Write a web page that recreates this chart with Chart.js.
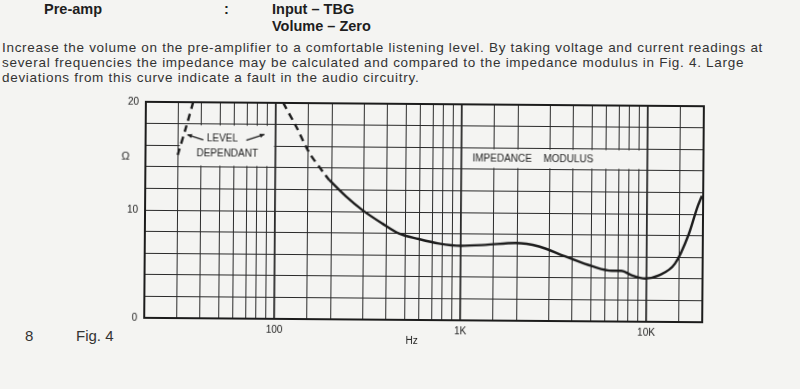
<!DOCTYPE html>
<html lang="en">
<head>
    <meta charset="UTF-8">
    <title>Fig. 4 - Impedance modulus</title>
    <script src="https://cdn.jsdelivr.net/npm/chart.js"></script>
    <style>
        body {
            margin: 0;
            width: 800px;
            height: 389px;
            background: #f4f4f2;
            font-family: "Liberation Sans", Arial, sans-serif;
            color: #222;
            position: relative;
            overflow: hidden;
        }
        .t { position: absolute; white-space: nowrap; line-height: 1; }
        .hdr { font-weight: bold; font-size: 14.5px; color: #1e1e1e; }
        .para { font-size: 13.5px; letter-spacing: 0.7px; color: #333; }
        .foot { font-size: 15px; color: #333; }
        #wrap {
            position: absolute;
            left: 100px;
            top: 86px;
            width: 640px;
            height: 262px;
            transform: rotate(0.45deg);
        }
    </style>
</head>
<body>
    <div class="t hdr" style="left:44px;top:2px">Pre-amp</div>
    <div class="t hdr" style="left:224px;top:2px">:</div>
    <div class="t hdr" style="left:272px;top:2px">Input – TBG</div>
    <div class="t hdr" style="left:272px;top:19px">Volume – Zero</div>

    <div class="t para" style="left:2px;top:41px">Increase the volume on the pre-amplifier to a comfortable listening level. By taking voltage and current readings at</div>
    <div class="t para" style="left:2px;top:56px">several frequencies the impedance may be calculated and compared to the impedance modulus in Fig. 4. Large</div>
    <div class="t para" style="left:2px;top:71px">deviations from this curve indicate a fault in the audio circuitry.</div>

    <div class="t foot" style="left:25px;top:328px">8</div>
    <div class="t foot" style="left:76px;top:328px">Fig. 4</div>

    <div id="wrap"><canvas id="impChart" width="640" height="262"></canvas></div>

    <script>
        // impedance curve (Hz / ohm)
        const leftDashHz  = [29.8, 33.1, 35.9];
        const leftDashOhm = [15.1, 17.8, 20.0];

        const rightDashHz  = [109.5, 129, 152, 183, 195];
        const rightDashOhm = [20.0, 17.8, 15.4, 13.5, 12.9];

        const solidHz  = [195, 240, 294, 378, 464, 594, 761, 1000, 1360, 1970, 2630, 3640, 5110, 6500, 7330, 8310, 9820, 11600, 14200, 16800, 18600, 19700];
        const solidOhm = [12.9, 11.4, 10.15, 8.9, 8.0, 7.5, 7.1, 6.9, 7.0, 7.2, 6.9, 6.0, 5.1, 4.7, 4.7, 4.3, 4.0, 4.3, 5.4, 8.15, 10.6, 11.7];

        const xTickValues = [100, 1000, 10000];
        const xTickText   = ['100', '1K', '10K'];
        const yTickValues = [0, 10, 20];

        const PAPER = '#f4f4f2';
        const INK = '#1c1c1c';

        const pts = (xs, ys) => xs.map((v, i) => ({ x: v, y: ys[i] }));

        // blank label panels over the grid
        const panels = [
            { fromHz: 30, toHz: 100, fromOhm: 14, toOhm: 18 },
            { fromHz: 1000, toHz: 10000, fromOhm: 14, toOhm: 16 }
        ];

        function arrow(ctx, x1, y1, x2, y2) {
            const a = Math.atan2(y2 - y1, x2 - x1);
            ctx.beginPath();
            ctx.moveTo(x1, y1);
            ctx.lineTo(x2, y2);
            ctx.stroke();
            ctx.beginPath();
            ctx.moveTo(x2, y2);
            ctx.lineTo(x2 - 5 * Math.cos(a - 0.45), y2 - 5 * Math.sin(a - 0.45));
            ctx.lineTo(x2 - 5 * Math.cos(a + 0.45), y2 - 5 * Math.sin(a + 0.45));
            ctx.closePath();
            ctx.fill();
        }

        const decor = {
            id: 'decor',
            beforeDatasetsDraw(chart) {
                const { ctx, scales: { x, y } } = chart;
                ctx.save();
                ctx.fillStyle = PAPER;
                panels.forEach(p => {
                    const l = x.getPixelForValue(p.fromHz) + 1.5;
                    const r = x.getPixelForValue(p.toHz) - 1.5;
                    const t = y.getPixelForValue(p.toOhm) + 1.5;
                    const b = y.getPixelForValue(p.fromOhm) - 1.5;
                    ctx.fillRect(l, t, r - l, b - t);
                });

                ctx.fillStyle = INK;
                ctx.strokeStyle = INK;
                ctx.lineWidth = 1.3;
                ctx.font = '10px "Liberation Sans", Arial, sans-serif';
                ctx.textAlign = 'center';
                ctx.textBaseline = 'middle';

                // LEVEL DEPENDANT
                const lx = x.getPixelForValue(30);
                const ly = y.getPixelForValue(18);
                ctx.fillText('LEVEL', lx + 44, ly + 15);
                ctx.fillText('DEPENDANT', lx + 49, ly + 30);
                arrow(ctx, lx + 25, ly + 16, lx + 9, ly + 11);
                arrow(ctx, lx + 68, ly + 16, lx + 86, ly + 10);

                // IMPEDANCE MODULUS
                const mx = x.getPixelForValue(1000);
                const my = (y.getPixelForValue(16) + y.getPixelForValue(14)) / 2;
                ctx.textAlign = 'left';
                ctx.fillText('IMPEDANCE', mx + 11, my);
                ctx.fillText('MODULUS', mx + 82, my);
                ctx.restore();
            },
            afterDraw(chart) {
                const { ctx, chartArea: a, scales: { x, y } } = chart;
                ctx.save();
                ctx.strokeStyle = INK;
                ctx.lineWidth = 2;
                ctx.strokeRect(a.left, a.top, a.right - a.left, a.bottom - a.top);

                ctx.fillStyle = INK;
                ctx.font = '11px "Liberation Sans", Arial, sans-serif';
                ctx.textAlign = 'center';
                ctx.textBaseline = 'middle';
                ctx.fillText('Ω', a.left - 20, y.getPixelForValue(14.9));
                ctx.font = '10px "Liberation Sans", Arial, sans-serif';
                ctx.fillText('Hz', x.getPixelForValue(550), a.bottom + 21);
                ctx.restore();
            }
        };

        const config = {
            type: 'line',
            data: {
                datasets: [
                    {
                        data: pts(leftDashHz, leftDashOhm),
                        borderColor: INK,
                        borderWidth: 2.4,
                        borderDash: [7, 5],
                        pointRadius: 0,
                        tension: 0.3
                    },
                    {
                        data: pts(rightDashHz, rightDashOhm),
                        borderColor: INK,
                        borderWidth: 2.4,
                        borderDash: [7, 5],
                        pointRadius: 0,
                        tension: 0.3
                    },
                    {
                        data: pts(solidHz, solidOhm),
                        borderColor: INK,
                        borderWidth: 2.4,
                        pointRadius: 0,
                        cubicInterpolationMode: 'monotone'
                    }
                ]
            },
            options: {
                responsive: false,
                animation: false,
                layout: { padding: { top: 18, right: 37, left: 0, bottom: 0 } },
                plugins: {
                    legend: { display: false },
                    tooltip: { enabled: false }
                },
                scales: {
                    x: {
                        type: 'logarithmic',
                        min: 20,
                        max: 20000,
                        afterFit: s => { s.height = 28; },
                        border: { display: false },
                        grid: {
                            color: '#2a2a2a',
                            drawTicks: false,
                            lineWidth: c => (c.tick && xTickValues.includes(Math.round(c.tick.value)) ? 1.8 : 1)
                        },
                        ticks: {
                            autoSkip: false,
                            maxRotation: 0,
                            padding: 5,
                            color: INK,
                            font: { family: '"Liberation Sans", Arial, sans-serif', size: 10 },
                            callback: v => {
                                const i = xTickValues.indexOf(Math.round(v));
                                return i >= 0 ? xTickText[i] : '';
                            }
                        }
                    },
                    y: {
                        min: 0,
                        max: 20,
                        afterFit: s => { s.width = 45; },
                        border: { display: false },
                        grid: { color: '#2a2a2a', drawTicks: false, lineWidth: 1 },
                        ticks: {
                            stepSize: 2,
                            padding: 7,
                            color: INK,
                            font: { family: '"Liberation Sans", Arial, sans-serif', size: 10 },
                            callback: v => (yTickValues.includes(v) ? String(v) : '')
                        }
                    }
                }
            },
            plugins: [decor]
        };

        const impChart = new Chart(document.getElementById('impChart'), config);
    </script>
</body>
</html>
